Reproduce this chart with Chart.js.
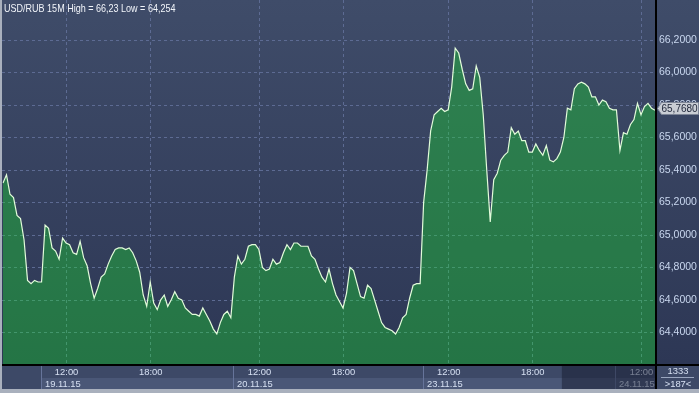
<!DOCTYPE html>
<html><head><meta charset="utf-8">
<script src="https://cdn.jsdelivr.net/npm/chart.js@4.4.0/dist/chart.umd.min.js"></script>
<style>html,body{margin:0;padding:0;background:#a9b0bd;}canvas{display:block}</style>
</head><body>
<canvas id="c" width="699" height="393"></canvas>
<script>
const title = 'USD/RUB 15M High = 66,23 Low = 64,254';
const dayLabels = ['18.11.15', '19.11.15', '20.11.15', '23.11.15', '24.11.15'];
const dayFirstBar = ['21:15', '10:15', '10:15', '10:15', '10:15'];
const dayBarCount = [11, 55, 54, 55, 12];
const closes = [
  65.32, 65.37, 65.25, 65.23, 65.12, 65.10, 64.97, 64.72, 64.70, 64.72,
  64.71, 64.71, 65.06, 65.04, 64.92, 64.90, 64.85, 64.98, 64.95, 64.94,
  64.89, 64.88, 64.96, 64.86, 64.81, 64.70, 64.61, 64.67, 64.74, 64.76,
  64.82, 64.87, 64.91, 64.92, 64.92, 64.91, 64.92, 64.89, 64.84, 64.77,
  64.63, 64.56, 64.71, 64.58, 64.54, 64.60, 64.63, 64.56, 64.60, 64.65,
  64.61, 64.60, 64.55, 64.53, 64.51, 64.51, 64.50, 64.55, 64.51, 64.47,
  64.42, 64.39, 64.46, 64.51, 64.53, 64.49, 64.74, 64.87, 64.82, 64.85,
  64.93, 64.94, 64.94, 64.91, 64.80, 64.78, 64.79, 64.85, 64.82, 64.83,
  64.89, 64.94, 64.91, 64.95, 64.95, 64.93, 64.93, 64.93, 64.87, 64.85,
  64.79, 64.74, 64.71, 64.79, 64.70, 64.63, 64.59, 64.55, 64.64, 64.80,
  64.78, 64.70, 64.62, 64.61, 64.69, 64.67, 64.60, 64.53, 64.46, 64.43,
  64.42, 64.41, 64.39, 64.43, 64.49, 64.51, 64.61, 64.69, 64.70, 64.70,
  65.20, 65.40, 65.64, 65.74, 65.76, 65.78, 65.76, 65.77, 65.91, 66.15,
  66.12, 66.02, 65.93, 65.89, 65.90, 66.04, 65.97, 65.74, 65.40, 65.08,
  65.34, 65.38, 65.46, 65.49, 65.51, 65.66, 65.62, 65.64, 65.58, 65.58,
  65.51, 65.51, 65.56, 65.52, 65.49, 65.55, 65.46, 65.45, 65.47, 65.51,
  65.60, 65.78, 65.77, 65.90, 65.93, 65.94, 65.93, 65.91, 65.85, 65.85,
  65.80, 65.83, 65.82, 65.78, 65.77, 65.77, 65.52, 65.63, 65.62, 65.68,
  65.71, 65.81, 65.74, 65.79, 65.81, 65.78, 65.768
];
const yTicks = [64.4, 64.6, 64.8, 65.0, 65.2, 65.4, 65.6, 65.8, 66.0, 66.2];
const yMin = 64.205, yMax = 66.383;
const timeTicks = ['12:00', '18:00'];
const totalBars = '1333';
const visibleBars = '>187<';
const shadeFrom = '23.11.15 20:00';

// build bar time labels
const labels = [], dayOf = [], timeOf = [];
dayLabels.forEach((d, k) => {
  const [h, m] = dayFirstBar[k].split(':').map(Number);
  let t = h * 60 + m;
  for (let n = 0; n < dayBarCount[k]; n++) {
    const hh = String(Math.floor(t / 60)).padStart(2, '0');
    const mm = String(t % 60).padStart(2, '0');
    labels.push(d + ' ' + hh + ':' + mm);
    dayOf.push(k);
    timeOf.push(hh + ':' + mm);
    t += 15;
  }
});

const FONT = '"Liberation Sans", Arial, sans-serif';
const fmt = v => Number(v).toFixed(4).replace('.', ',');

const deco = {
  id: 'deco',
  beforeDraw(chart) {
    const {ctx, chartArea: a, width: W, height: H} = chart;
    ctx.save();
    ctx.fillStyle = '#a9b0bd'; ctx.fillRect(0, 0, W, H);
    const g = ctx.createLinearGradient(0, 0, 0, a.bottom);
    g.addColorStop(0, '#3f4c69'); g.addColorStop(1, '#2d3755');
    ctx.fillStyle = g; ctx.fillRect(2, 0, W - 2, a.bottom);
    ctx.fillStyle = '#3d4967'; ctx.fillRect(2, a.bottom, W - 2, H - 4 - a.bottom);
    ctx.restore();
  },
  beforeDatasetsDraw(chart) {
    const {ctx, chartArea: a, scales: {x, y}} = chart;
    ctx.save();
    ctx.beginPath(); ctx.rect(2, 0, a.right - 2, a.bottom); ctx.clip();
    ctx.strokeStyle = '#5d6b93'; ctx.lineWidth = 1; ctx.setLineDash([3, 3]);
    yTicks.forEach(v => {
      const py = Math.round(y.getPixelForValue(v)) + 0.5;
      ctx.beginPath(); ctx.moveTo(2, py); ctx.lineTo(a.right, py); ctx.stroke();
    });
    timeOf.forEach((t, i) => {
      if (timeTicks.includes(t)) {
        const px = Math.round(x.getPixelForValue(i)) + 0.5;
        ctx.beginPath(); ctx.moveTo(px, 0); ctx.lineTo(px, a.bottom); ctx.stroke();
      }
    });
    ctx.restore();
  },
  afterDatasetsDraw(chart) {
    const {ctx, chartArea: a, scales: {x, y}, width: W, height: H} = chart;
    const axTop = a.bottom + 2, axBot = H - 4, rowSplit = axTop + 12;
    ctx.save();
    // day starts
    const starts = [];
    dayOf.forEach((d, i) => { if (i === 0 || dayOf[i - 1] !== d) starts.push(i); });
    const sepX = k => Math.round(x.getPixelForValue(starts[k])) - 0.5;
    // bands
    for (let k = 1; k < starts.length; k++) {
      const x0 = sepX(k), x1 = k + 1 < starts.length ? sepX(k + 1) : a.right;
      ctx.fillStyle = '#4a5777';
      ctx.fillRect(x0, rowSplit, x1 - x0, axBot - rowSplit);
    }
    ctx.strokeStyle = '#66749a'; ctx.lineWidth = 1;
    for (let k = 1; k < starts.length; k++) {
      const sx = sepX(k);
      ctx.beginPath(); ctx.moveTo(sx, axTop); ctx.lineTo(sx, axBot); ctx.stroke();
    }
    // labels
    ctx.fillStyle = '#d6e0f2';
    ctx.font = '9.4px ' + FONT;
    ctx.textBaseline = 'middle';
    ctx.textAlign = 'center';
    timeOf.forEach((t, i) => {
      if (timeTicks.includes(t)) ctx.fillText(t, x.getPixelForValue(i) + 0.5, axTop + 6.5);
    });
    ctx.textAlign = 'left';
    for (let k = 1; k < starts.length; k++) {
      ctx.fillText(dayLabels[dayOf[starts[k]]], sepX(k) + 3.5, rowSplit + 6);
    }
    // shaded overlay
    const si = labels.indexOf(shadeFrom);
    const sx = x.getPixelForValue(si) + 1.5;
    ctx.fillStyle = 'rgba(22,28,48,0.5)';
    ctx.fillRect(sx, axTop, a.right - sx, axBot - axTop);
    // black frame lines
    ctx.fillStyle = '#000';
    ctx.fillRect(2, a.bottom, W - 2, 2);
    ctx.fillRect(a.right, 0, 2, axBot);
    // right-bottom box
    const cx = (a.right + 2 + W) / 2;
    ctx.fillStyle = '#d6e0f2';
    ctx.textAlign = 'center';
    ctx.fillText(totalBars, cx, axTop + 5.5);
    ctx.fillText(visibleBars, cx, rowSplit + 6);
    ctx.strokeStyle = '#9aa6bf';
    ctx.beginPath(); ctx.moveTo(a.right + 6, rowSplit - 0.5); ctx.lineTo(W - 5, rowSplit - 0.5); ctx.stroke();
    // title
    ctx.save();
    ctx.translate(4, 12); ctx.scale(0.82, 1);
    ctx.textAlign = 'left'; ctx.textBaseline = 'alphabetic';
    ctx.font = '11px ' + FONT; ctx.fillStyle = '#f2f5fa';
    ctx.fillText(title, 0, 0);
    ctx.restore();
    // price tag
    const last = closes[closes.length - 1];
    const py = Math.round(y.getPixelForValue(last)) - 1.5;
    ctx.beginPath();
    ctx.moveTo(a.right + 2.5, py);
    ctx.lineTo(a.right + 6.5, py - 6);
    ctx.lineTo(W - 0.5, py - 6);
    ctx.lineTo(W - 0.5, py + 6);
    ctx.lineTo(a.right + 6.5, py + 6);
    ctx.closePath();
    ctx.fillStyle = '#c9cdd4'; ctx.fill();
    ctx.strokeStyle = '#7d8596'; ctx.lineWidth = 1; ctx.stroke();
    ctx.fillStyle = '#1e2538'; ctx.font = '10px ' + FONT;
    ctx.textAlign = 'left'; ctx.textBaseline = 'middle';
    ctx.fillText(fmt(last), a.right + 6.5, py + 0.5);
    ctx.restore();
  }
};

new Chart(document.getElementById('c'), {
  type: 'line',
  data: {
    labels: labels,
    datasets: [{
      data: closes,
      borderColor: '#e2fcda',
      borderWidth: 1.2,
      backgroundColor: 'rgba(22,228,42,0.36)',
      fill: 'start',
      pointRadius: 0,
      tension: 0
    }]
  },
  options: {
    responsive: false,
    animation: false,
    devicePixelRatio: 1,
    events: [],
    layout: {padding: {left: 3, top: 0, right: 0, bottom: 4}},
    plugins: {legend: {display: false}, tooltip: {enabled: false}, title: {display: false}},
    scales: {
      x: {
        type: 'category',
        grid: {display: false, drawTicks: false},
        border: {display: false},
        ticks: {display: false},
        afterFit(s) { s.height = 25; }
      },
      y: {
        position: 'right',
        min: yMin, max: yMax,
        grid: {display: false, drawTicks: false},
        border: {display: false},
        afterFit(s) { s.width = 44; },
        afterBuildTicks(s) { s.ticks = yTicks.map(v => ({value: v})); },
        ticks: {
          padding: 4, color: '#c9d7ef', autoSkip: false,
          font: {family: FONT, size: 10.5},
          callback: v => fmt(v)
        }
      }
    }
  },
  plugins: [deco]
});
</script>
</body></html>
